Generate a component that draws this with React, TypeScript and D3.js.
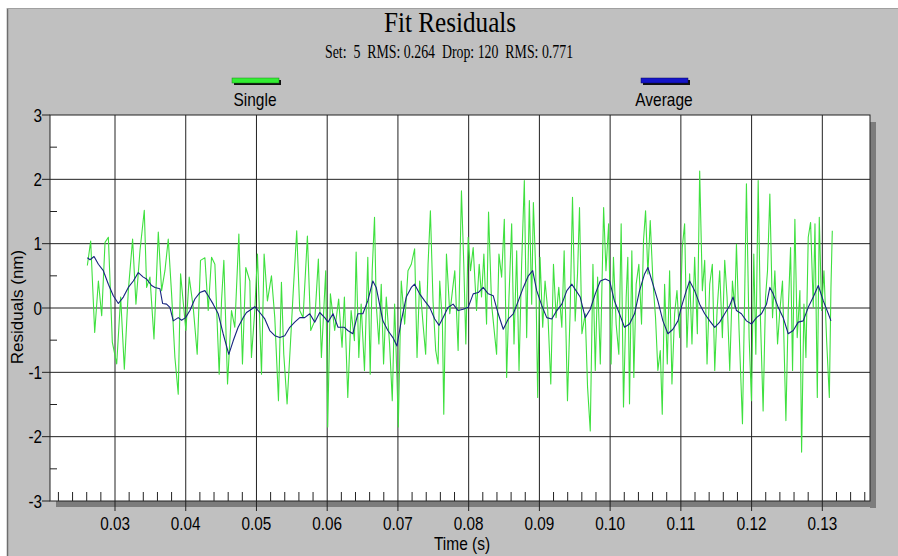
import React from "react";
import * as d3 from "d3";

// ---------- data ----------
const singleTimeMs = [
  26.09, 26.56, 27.13, 27.65, 28.12, 28.59, 29.06, 29.62, 30.24, 30.8, 31.32, 31.88, 32.49, 32.96, 33.53, 34.14,
  34.47, 34.94, 35.51, 36.12, 36.59, 37.06, 37.53, 38.0, 38.47, 38.94, 39.27, 40.02, 40.49, 41.06, 41.62, 42.09,
  42.71, 43.18, 43.65, 44.12, 44.73, 45.06, 45.39, 45.91, 46.47, 46.94, 47.51, 48.02, 48.49, 49.06, 49.29, 49.76,
  50.14, 50.71, 51.08, 51.55, 52.12, 52.59, 53.11, 53.53, 53.86, 54.33, 54.8, 55.18, 55.69, 56.12, 56.59, 57.2,
  57.67, 58.24, 58.75, 59.18, 59.79, 60.07, 60.45, 61.06, 61.62,
  62.1, 62.43, 62.91, 63.38, 63.85, 64.09, 64.47, 64.8, 65.27, 65.74, 66.08, 66.36, 66.69, 66.93, 67.31, 67.64,
  67.97, 68.35, 68.82, 69.2, 69.53, 69.86, 70.05, 70.47, 70.95, 71.42, 71.89, 72.36, 72.7, 73.07, 73.55, 73.92,
  74.26, 74.59, 74.96, 75.34, 75.67, 75.91, 76.29, 76.48, 76.86, 77.33, 77.71, 78.04, 78.51, 78.98, 79.31, 79.6,
  79.93, 80.26, 80.64, 81.11, 81.49, 81.82, 82.15, 82.53, 82.81, 83.24, 83.71, 83.95, 84.28, 84.66, 85.04, 85.37,
  85.7, 86.08, 86.41, 86.79, 87.12, 87.49, 87.87, 88.2, 88.58, 88.91, 89.15, 89.48, 89.76, 90.09, 90.47, 90.8,
  91.18, 91.61, 91.99, 92.36, 92.74, 93.17, 93.5, 93.97, 94.35, 94.68, 95.06, 95.39, 95.67, 96.01, 96.48, 96.81,
  97.19, 97.57, 97.9, 98.23, 98.61, 99.08, 99.41, 99.79,
  100.14, 100.47, 100.85, 101.23, 101.56, 101.89, 102.27, 102.5, 102.74, 103.07, 103.35, 103.68, 104.06, 104.44,
  104.72, 105.01, 105.34, 105.67, 106.05, 106.42, 106.75, 107.09, 107.37, 107.7, 108.08, 108.41, 108.74, 109.12,
  109.45, 109.83, 110.2, 110.53, 110.86, 111.24, 111.57, 111.95, 112.33, 112.66, 113.04, 113.37, 113.7, 114.08,
  114.45, 114.79, 115.12, 115.49, 115.87, 116.2, 116.53, 116.91, 117.29, 117.62, 117.86, 118.23, 118.71, 119.04,
  119.27, 119.65, 119.98, 120.31, 120.6, 120.93, 121.26, 121.63, 121.97, 122.25, 122.58, 122.96, 123.29, 123.67,
  124.0, 124.37, 124.85, 125.18, 125.51, 125.79, 126.12, 126.45, 126.83, 127.07, 127.4, 127.68, 128.01, 128.34,
  128.72, 128.96, 129.29, 129.57, 129.9, 130.23, 130.61, 130.99, 131.22, 131.41,
];
const singleValues = [
  0.66, 1.04, -0.38, 0.42, -0.12, 1.02, 1.1, -0.53, -0.87, 0.17, -0.95, 0.27, 1.07, 0.06, 0.89, 1.52,
  0.32, 0.48, -0.48, 1.18, 0.27, 0.58, 1.07, 0.22, -0.77, -1.34, 0.53, -0.35, 0.48, 0.01, -0.72, 0.74,
  0.78, -0.04, 0.79, 0.68, -1.03, 0.11, 0.74, -1.18, -0.04, -0.3, 1.15, -0.87, 0.63, 0.42, -0.77, -0.04,
  0.84, -1.03, 0.84, 0.11, 0.5, -0.15, -1.44, 0.4, -0.72, -1.49, -0.56, 0.22, 1.2, -0.04, -0.15, 1.12,
  -0.35, -0.2, 0.76, -0.77, 0.58, -1.85, 0.22, -0.35, 0.14,
  -0.61, 0.17, -1.39, -0.04, -0.51, 0.87, -0.77, 0.06, -0.97, 0.79, -1.03, 0.58, 1.41, 0.06, -0.56, 0.37,
  -0.87, 0.17, -0.56, -1.44, 0.06, -1.08, -1.85, 0.42, -0.25, 0.58, 0.68, 0.92, -0.77, 0.42, -0.25, -0.72,
  0.68, 1.51, 0.11, -0.66, -0.87, 0.42, -0.25, -1.65, 0.84, -0.09, 0.27, 0.58, -0.66, 1.82, 0.68, -0.56,
  1.1, 0.58, 0.94, -0.04, 0.68, 0.17, 0.84, -0.25, 1.49, 0.06, -0.46, -0.72, 0.84, 0.48, 1.38, -1.08,
  0.17, 1.31, -0.56, 0.89, -0.97, 0.68, 1.98, -0.46, 1.67, 0.06, 1.64, 0.58, -1.39, 0.79, -0.3, 0.42,
  -0.04, -1.18, 0.68, -0.15, 0.32, -0.3, 0.89, -1.44, -0.04, 1.72, -0.2, 0.53, 1.56, -0.4, -0.09, -1.23,
  -1.91, 0.68, -0.97, 0.48, -0.87, 1.56, 0.58, 1.31,
  -0.87, 0.79, -0.25, -0.72, 1.31, -1.54, 0.17, 0.79, -1.49, 0.89, -1.08, 0.37, 0.68, -0.25,
  1.05, 1.51, 0.53, 1.36, 0.42, -0.15, -0.97, -0.66, -1.65, 0.37, -0.87, 0.58, -1.18, -0.09,
  0.27, -0.46, 0.94, 1.31, -0.61, 0.53, -0.56, 0.79, -0.4, 2.13, 0.27, 0.74, -0.87, 0.37,
  0.68, -0.97, -0.04, 0.58, -0.46, 0.74, 0.17, -0.97, 0.42, 0.01, 0.99, -0.35, -1.8, 0.32,
  1.93, -0.46, -1.44, 0.84, -0.72, 1.98, -0.2, -1.6, 0.17, 0.58, 1.77, -0.15, 0.58, -0.56,
  -0.04, 0.42, -1.75, -0.04, 0.94, -0.97, 1.38, -0.46, 0.27, -2.24, 0.06, -0.77, 1.1, 1.33,
  0.01, 1.31, -1.39, 1.41, -0.04, 0.58, -0.51, -1.39, 0.32, 1.2,
];

const averageTimeMs = [
  26.09, 26.47, 27.04, 27.65, 28.35, 29.06, 29.76, 30.47, 31.18, 31.88, 32.59, 33.29, 34.0, 34.47, 35.18, 35.65,
  36.35, 36.73, 37.29, 37.76, 38.24, 38.94, 39.41, 39.98, 40.59, 41.29, 42.0, 42.71, 43.18, 43.88, 44.59, 45.29,
  46.09, 46.71, 47.41, 48.12, 48.59, 49.29, 49.76, 50.47, 51.18, 51.88, 52.59, 53.29, 54.0, 54.71, 55.41, 56.12,
  56.82, 57.53, 58.24, 58.94, 59.65, 60.12, 60.82, 61.53,
  62.43, 62.91, 63.62, 64.33, 65.04, 65.74, 66.45, 66.93, 67.4, 67.87, 68.58, 69.29, 69.86, 70.47, 71.18, 71.89,
  72.36, 73.07, 73.78, 74.49, 75.2, 75.82, 76.38, 77.09, 77.8, 78.51, 79.22, 79.93, 80.64, 81.35, 82.06, 82.77,
  83.48, 84.18, 84.89, 85.6, 86.31, 87.02, 87.73, 88.44, 89.05, 89.62, 90.33, 91.04, 91.75, 92.46, 93.17, 93.88,
  94.59, 95.06, 95.77, 96.48, 97.19, 97.9, 98.61, 99.31, 99.93,
  100.61, 101.32, 102.03, 102.74, 103.45, 104.16, 104.87, 105.34, 106.05, 106.75, 107.46, 108.17, 108.88, 109.59,
  110.06, 110.77, 111.24, 111.95, 112.66, 113.37, 114.08, 114.79, 115.49, 116.2, 116.91, 117.38, 117.86, 118.56,
  119.27, 119.98, 120.69, 121.4, 122.11, 122.58, 123.05, 123.76, 124.47, 125.18, 125.89, 126.59, 127.3, 128.01,
  128.72, 129.43, 130.14, 130.85, 131.22,
];
const averageValues = [
  0.78, 0.75, 0.8, 0.68, 0.58, 0.37, 0.19, 0.07, 0.17, 0.32, 0.42, 0.55, 0.48, 0.45, 0.35, 0.32,
  0.3, 0.07, 0.06, 0.01, -0.2, -0.15, -0.19, -0.15, -0.04, 0.14, 0.24, 0.27, 0.19, 0.06, -0.09, -0.4,
  -0.72, -0.51, -0.3, -0.15, -0.07, -0.02, 0.02, -0.07, -0.17, -0.35, -0.43, -0.46, -0.43, -0.3, -0.22, -0.15,
  -0.15, -0.09, -0.22, -0.07, -0.15, -0.22, -0.09, -0.3,
  -0.3, -0.35, -0.4, -0.09, -0.09, 0.11, 0.42, 0.32, 0.06, -0.2, -0.35, -0.46, -0.59, -0.2, 0.17, 0.32,
  0.37, 0.22, 0.11, 0.01, -0.17, -0.27, -0.15, 0.01, 0.06, -0.04, -0.02, 0.01, 0.22, 0.24, 0.32, 0.22,
  0.19, -0.09, -0.33, -0.17, -0.09, 0.11, 0.32, 0.5, 0.58, 0.27, 0.04, -0.15, -0.17, -0.04, 0.06, 0.27,
  0.37, 0.29, 0.17, -0.15, -0.02, 0.22, 0.42, 0.45, 0.42,
  0.11, -0.09, -0.3, -0.25, -0.09, 0.27, 0.53, 0.63, 0.37, 0.11, -0.2, -0.4, -0.33, -0.2,
  0.01, 0.27, 0.42, 0.27, 0.06, -0.09, -0.2, -0.3, -0.22, -0.09, 0.04, 0.17, -0.04, -0.09,
  -0.2, -0.25, -0.15, -0.09, 0.06, 0.32, 0.22, 0.01, -0.15, -0.4, -0.35, -0.22, -0.2, 0.01,
  0.17, 0.35, 0.11, -0.09, -0.2,
];

const xTickValuesMs = [30, 40, 50, 60, 70, 80, 90, 100, 110, 120, 130];
const xTickLabels = ["0.03", "0.04", "0.05", "0.06", "0.07", "0.08", "0.09", "0.10", "0.11", "0.12", "0.13"];
const yTickValues = [3, 2, 1, 0, -1, -2, -3];
const yTickLabels = ["3", "2", "1", "0", "-1", "-2", "-3"];
const seriesNames = ["Single", "Average"];
const titleText = "Fit Residuals";
const subtitleText = "Set:  5  RMS: 0.264  Drop: 120  RMS: 0.771";
const xAxisTitle = "Time (s)";
const yAxisTitle = "Residuals (nm)";

// ---------- layout ----------
const W = 898;
const H = 556;
const PL = 50, PR = 870, PT = 115, PB = 501;
const GREEN = "#3fe03f";
const BLUE = "#16237f";

export default function App() {
  const x = d3.scaleLinear().domain([20.81, 136.74]).range([PL, PR]);
  const y = d3.scaleLinear().domain([-3, 3]).range([PB, PT]);

  const singleData = singleTimeMs.map((t, i) => [t, singleValues[i]] as [number, number]);
  const averageData = averageTimeMs.map((t, i) => [t, averageValues[i]] as [number, number]);
  const line = d3.line<[number, number]>().x((d) => x(d[0])).y((d) => y(d[1]));

  const minorX = d3.range(22, 137, 2).filter((v) => v % 10 !== 0);
  const minorY = [2.5, 1.5, 0.5, -0.5, -1.5, -2.5];

  const sans = "Arial, 'Liberation Sans', sans-serif";
  const serif = "'Times New Roman', 'Liberation Serif', serif";

  const condensed = (
    tx: number,
    ty: number,
    text: string,
    opts: { size: number; sx: number; anchor?: string; family?: string; key?: string }
  ) => (
    <text
      key={opts.key}
      transform={`translate(${tx},${ty}) scale(${opts.sx},1)`}
      textAnchor={opts.anchor || "middle"}
      fontFamily={opts.family || sans}
      fontSize={opts.size}
      fill="#000"
      style={{ whiteSpace: "pre" }}
    >
      {text}
    </text>
  );

  return (
    <svg
      width={W}
      height={H}
      style={{ position: "absolute", left: 0, top: 0, display: "block" }}
    >
      <rect x={0} y={0} width={W} height={H} fill="#ffffff" />
      <rect x={7} y={8} width={W} height={H} fill="#c0c0c0" />
      <line x1={7.5} y1={8} x2={7.5} y2={H} stroke="#6e6e6e" strokeWidth={1.5} />
      <line x1={7} y1={8.5} x2={W} y2={8.5} stroke="#a0a0a0" strokeWidth={1} />

      {/* title */}
      {condensed(450, 32, titleText, { size: 30, sx: 0.84, family: serif })}
      {condensed(449, 58, subtitleText, { size: 18, sx: 0.77, family: serif })}

      {/* legend */}
      <rect x={234} y={80} width={47} height={5} fill="#111" />
      <rect x={232} y={78} width={47} height={5} fill="#33ee33" stroke="#1a8a1a" strokeWidth={0.5} />
      {condensed(255, 106, seriesNames[0], { size: 18, sx: 0.86 })}
      <rect x={643} y={80} width={47} height={5} fill="#111" />
      <rect x={641} y={78} width={47} height={5} fill="#1515c8" stroke="#0a0a60" strokeWidth={0.5} />
      {condensed(664, 106, seriesNames[1], { size: 18, sx: 0.86 })}

      {/* shadow */}
      <rect x={PR} y={PT + 7} width={6} height={PB - PT} fill="#7c7c7c" />
      <rect x={PL + 6} y={PB} width={PR - PL} height={6} fill="#7c7c7c" />

      {/* plot area */}
      <rect x={PL} y={PT} width={PR - PL} height={PB - PT} fill="#ffffff" />

      {/* horizontal grid + major y ticks */}
      {yTickValues.map((v) => (
        <line key={"hy" + v} x1={PL - 8} x2={v === 3 || v === -3 ? PL : PR} y1={y(v)} y2={y(v)} stroke="#222" strokeWidth={1} />
      ))}
      {/* vertical grid + major x ticks */}
      {xTickValuesMs.map((v) => (
        <line key={"vx" + v} x1={x(v)} x2={x(v)} y1={PT} y2={PB + 10} stroke="#222" strokeWidth={1} />
      ))}
      {/* minor ticks */}
      {minorX.map((v) => (
        <line key={"mx" + v} x1={x(v)} x2={x(v)} y1={PB} y2={PB - 9} stroke="#222" strokeWidth={1} />
      ))}
      {minorY.map((v) => (
        <line key={"my" + v} x1={PL} x2={PL + 7} y1={y(v)} y2={y(v)} stroke="#222" strokeWidth={1} />
      ))}

      {/* series */}
      <path d={line(singleData) || ""} fill="none" stroke={GREEN} strokeWidth={1.1} strokeLinejoin="round" />
      <path d={line(averageData) || ""} fill="none" stroke={BLUE} strokeWidth={1.1} strokeLinejoin="round" />

      {/* plot border */}
      <rect x={PL} y={PT} width={PR - PL} height={PB - PT} fill="none" stroke="#222" strokeWidth={1} />

      {/* y tick labels */}
      {yTickValues.map((v, i) =>
        condensed(42, y(v) + 6.5, yTickLabels[i], { size: 18, sx: 0.85, anchor: "end", key: "yl" + v })
      )}
      {/* x tick labels */}
      {xTickValuesMs.map((v, i) =>
        condensed(x(v), 530, xTickLabels[i], { size: 18, sx: 0.85, key: "xl" + v })
      )}

      {/* axis titles */}
      {condensed(462, 550, xAxisTitle, { size: 18, sx: 0.86 })}
      <text
        transform={`translate(23,307) rotate(-90)`}
        textAnchor="middle"
        fontFamily={sans}
        fontSize={17}
        fill="#000"
      >
        {yAxisTitle}
      </text>
    </svg>
  );
}
